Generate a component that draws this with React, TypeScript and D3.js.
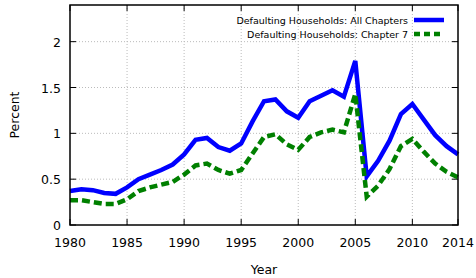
import React from 'react';
import * as d3 from 'd3';

const years = d3.range(1980, 2015);
const allChapters = [
  0.37, 0.39, 0.38, 0.35, 0.34, 0.41, 0.50, 0.55, 0.60, 0.66,
  0.77, 0.93, 0.95, 0.85, 0.81, 0.89, 1.13, 1.35, 1.37, 1.24,
  1.17, 1.35, 1.41, 1.47, 1.40, 1.79, 0.53, 0.70, 0.92, 1.21,
  1.32, 1.15, 0.98, 0.86, 0.77,
];
const chapter7 = [
  0.27, 0.27, 0.25, 0.23, 0.23, 0.28, 0.37, 0.41, 0.44, 0.47,
  0.55, 0.65, 0.67, 0.60, 0.56, 0.60, 0.78, 0.96, 0.99, 0.88,
  0.82, 0.96, 1.01, 1.04, 1.01, 1.43, 0.31, 0.43, 0.61, 0.86,
  0.94, 0.80, 0.67, 0.58, 0.52,
];
const xTicks = [1980, 1985, 1990, 1995, 2000, 2005, 2010, 2014];
const yTicks = [0, 0.5, 1, 1.5, 2];
const seriesNames = ['Defaulting Households: All Chapters', 'Defaulting Households: Chapter 7'];

const W = 476;
const H = 278;
const margin = { left: 70, right: 18, top: 5, bottom: 53 };

export default function App() {
  const x = d3.scaleLinear().domain([1980, 2014]).range([margin.left, W - margin.right]);
  const y = d3.scaleLinear().domain([0, 2.4]).range([H - margin.bottom, margin.top]);
  const line = d3.line<number>().x((_, i) => x(years[i])).y(d => y(d));
  const x0 = x.range()[0], x1 = x.range()[1];
  const y0 = y.range()[0], y1 = y.range()[1];
  const font = 'DejaVu Sans, sans-serif';
  const tick = 6;

  return (
    <svg width={W} height={H} style={{ position: 'absolute', left: 0, top: 0, background: '#fff' }} fontFamily={font}>
      {/* grid */}
      {xTicks.slice(1, -1).map(t => (
        <line key={'gx' + t} x1={x(t)} x2={x(t)} y1={y0} y2={y1} stroke="#bbb" strokeWidth={1} strokeDasharray="1,2" />
      ))}
      {yTicks.slice(1).map(t => (
        <line key={'gy' + t} x1={x0} x2={x1} y1={y(t)} y2={y(t)} stroke="#bbb" strokeWidth={1} strokeDasharray="1,2" />
      ))}
      {/* ticks */}
      {xTicks.map(t => (
        <g key={'tx' + t}>
          <line x1={x(t)} x2={x(t)} y1={y0} y2={y0 - tick} stroke="#000" />
          <line x1={x(t)} x2={x(t)} y1={y1} y2={y1 + tick} stroke="#000" />
          <text x={x(t)} y={y0 + 22} textAnchor="middle" fontSize={12.5}>{t}</text>
        </g>
      ))}
      {yTicks.map(t => (
        <g key={'ty' + t}>
          <line x1={x0} x2={x0 + tick} y1={y(t)} y2={y(t)} stroke="#000" />
          <line x1={x1} x2={x1 - tick} y1={y(t)} y2={y(t)} stroke="#000" />
          <text x={x0 - 9} y={y(t) + 5} textAnchor="end" fontSize={12.5}>{t}</text>
        </g>
      ))}
      {/* data */}
      <path d={line(allChapters) || ''} fill="none" stroke="#0000ff" strokeWidth={4.5} strokeLinejoin="miter" />
      <path d={line(chapter7) || ''} fill="none" stroke="#008000" strokeWidth={4.5} strokeDasharray="8,4" />
      {/* legend */}
      <text x={408} y={24} textAnchor="end" fontSize={9.5}>{seriesNames[0]}</text>
      <line x1={414} x2={444} y1={20} y2={20} stroke="#0000ff" strokeWidth={4.5} />
      <text x={408} y={38} textAnchor="end" fontSize={9.5}>{seriesNames[1]}</text>
      <line x1={414} x2={444} y1={34} y2={34} stroke="#008000" strokeWidth={4.5} strokeDasharray="6,4" />
      {/* frame */}
      <rect x={x0} y={y1} width={x1 - x0} height={y0 - y1} fill="none" stroke="#000" strokeWidth={1.5} />
      {/* axis titles */}
      <text x={(x0 + x1) / 2} y={H - 4} textAnchor="middle" fontSize={12.5}>Year</text>
      <text transform={`translate(19,${(y0 + y1) / 2}) rotate(-90)`} textAnchor="middle" fontSize={12.5}>Percent</text>
    </svg>
  );
}
